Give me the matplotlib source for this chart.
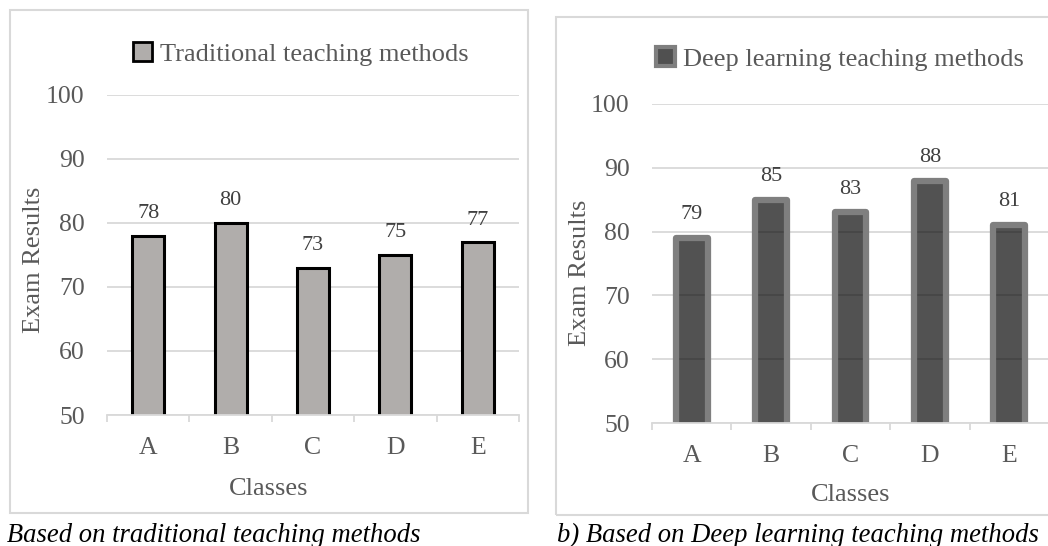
import matplotlib
matplotlib.use("Agg")
import matplotlib.pyplot as plt
from matplotlib.patches import Patch, Rectangle

plt.rcParams['font.family'] = ['Liberation Serif', 'DejaVu Serif']

classes = ['A', 'B', 'C', 'D', 'E']
traditional = [78, 80, 73, 75, 77]
deep_learning = [79, 85, 83, 88, 81]
y_ticks = [50, 60, 70, 80, 90, 100]

GRID = '#d9d9d9'
TXT = '#595959'
W, H = 1048, 546


def fig_rect(x0, y0, x1, y1):
    # pixel box (top-left origin) -> figure fraction [left, bottom, w, h]
    return [x0 / W, 1 - y1 / H, (x1 - x0) / W, (y1 - y0) / H]


def style_axes(ax):
    ax.set_ylim(50, 100)
    ax.set_xlim(-0.5, len(classes) - 0.5)
    ax.set_yticks(y_ticks)
    ax.set_xticks(range(len(classes)))
    ax.set_xticklabels(classes)
    ax.set_xticks([i - 0.5 for i in range(len(classes) + 1)], minor=True)
    ax.grid(axis='y', color=GRID, lw=1.3)
    ax.set_axisbelow(True)
    for s in ['top', 'right', 'left']:
        ax.spines[s].set_visible(False)
    ax.spines['bottom'].set_color(GRID)
    ax.spines['bottom'].set_linewidth(1.3)
    ax.tick_params(axis='y', length=0, pad=16, labelsize=18.5, labelcolor=TXT)
    ax.tick_params(axis='x', which='major', length=0, pad=16, labelsize=18.5, labelcolor=TXT)
    ax.tick_params(axis='x', which='minor', length=5, width=1.3, color=GRID)
    ax.set_xlabel('Classes', fontsize=19, color=TXT)
    ax.set_ylabel('Exam Results', fontsize=19, color=TXT)


fig = plt.figure(figsize=(10.48, 5.46), dpi=100)

# panel frames
fig.add_artist(Rectangle((9.5 / W, 1 - 513 / H), (528 - 9.5) / W, (513 - 9.7) / H,
                         transform=fig.transFigure, fill=False, ec=GRID, lw=1.5))
fig.add_artist(Rectangle((556 / W, 1 - 515 / H), (1060 - 556) / W, (515 - 16.7) / H,
                         transform=fig.transFigure, fill=False, ec=GRID, lw=1.5))

# left: traditional
ax1 = fig.add_axes(fig_rect(107, 94.7, 519, 415))
style_axes(ax1)
b1 = ax1.bar(range(len(classes)), traditional, width=0.39,
             color='#b0adab', edgecolor='black', lw=2.2)
ax1.bar_label(b1, padding=9, fontsize=16, color='#404040')
ax1.xaxis.set_label_coords(0.393, -0.197)
ax1.yaxis.set_label_coords(-0.15, 0.484)
fig.legend(handles=[Patch(fc='#b0adab', ec='black', lw=2)],
           labels=['Traditional teaching methods'],
           loc='center', bbox_to_anchor=(301 / W, 1 - 54 / H), frameon=False,
           fontsize=19, labelcolor=TXT, handlelength=0.7, handleheight=0.7,
           handletextpad=0.3, borderpad=0)

# right: deep learning
ax2 = fig.add_axes(fig_rect(652, 104, 1049, 423))
style_axes(ax2)
b2 = ax2.bar(range(len(classes)), deep_learning, width=0.40,
             color=(0, 0, 0, 0.68), edgecolor='#7f7f7f', lw=4.5, joinstyle='round')
ax2.bar_label(b2, padding=10, fontsize=16, color='#404040')
ax2.xaxis.set_label_coords(0.50, -0.191)
ax2.yaxis.set_label_coords(-0.154, 0.47)
fig.legend(handles=[Patch(fc='#505050', ec='#7f7f7f', lw=3)],
           labels=['Deep learning teaching methods'],
           loc='center', bbox_to_anchor=(840 / W, 1 - 59 / H), frameon=False,
           fontsize=19, labelcolor=TXT, handlelength=0.7, handleheight=0.7,
           handletextpad=0.3, borderpad=0)

# captions (the left one runs off the page edge, as in the source figure)
fig.text(421 / W, 1 - 542 / H, 'a) Based on traditional teaching methods',
         ha='right', va='baseline', fontsize=19.2, style='italic', color='black')
fig.text(557 / W, 1 - 542 / H, 'b) Based on Deep learning teaching methods',
         ha='left', va='baseline', fontsize=19.2, style='italic', color='black')

fig.savefig('out.png', dpi=100)
